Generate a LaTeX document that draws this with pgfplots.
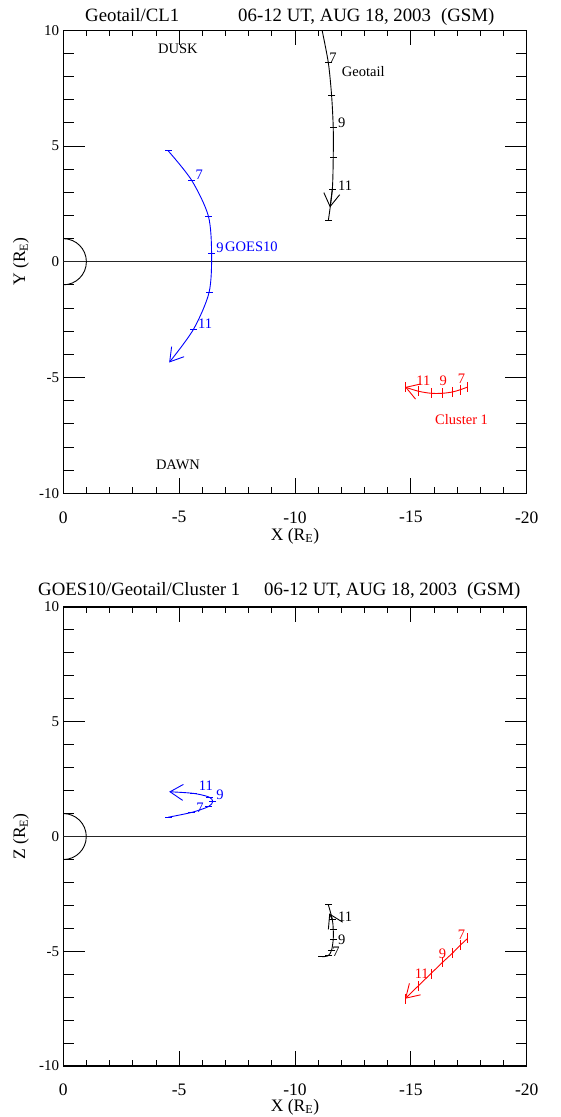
\documentclass[border=0pt]{standalone}
\usepackage{fontspec}
\setmainfont{Liberation Serif}
\usepackage{pgfplots}
\pgfplotsset{compat=1.18}
\usetikzlibrary{arrows.meta}
\newcommand\fa{\fontsize{14.5}{17}\selectfont}
\newcommand\ft{\fontsize{18.8}{22}\selectfont}
\newcommand\fx{\fontsize{17.5}{20}\selectfont}
\newcommand\fy{\fontsize{15}{18}\selectfont}
\pgfplotsset{
  base/.style={
    scale only axis, width=463.4pt, xmin=-20, xmax=0, x dir=reverse, ymin=-10, ymax=10,
    axis line style={line width=1.2pt}, tick style={line width=0.9pt, black},
  },
  xax/.style={base,
    xtick={0,-5,-10,-15,-20}, xticklabels={0,-5,-10,-15,-20}, minor x tick num=4,
    ytick=\empty, major tick length=15pt, minor tick length=6pt,
    xticklabel style={font=\fx, anchor=center, yshift=-24pt},
  },
  yax/.style={base,
    ytick={-10,-5,0,5,10}, yticklabels={-10,-5,0,5,10}, minor y tick num=4,
    xtick=\empty, major tick length=22pt, minor tick length=11pt,
    yticklabel style={font=\fy, anchor=east, inner sep=0pt, xshift=-4pt},
  },
  trj/.style={line width=0.9pt},
  arr/.style={-{Straight Barb[length=13pt,width=16pt,line width=0.9pt]}},
}
\begin{document}
\begin{tikzpicture}
\useasboundingbox (0,0) rectangle (560pt,1117pt);
% ---------------- titles and labels ----------------
\node[anchor=base west, font=\ft, inner sep=0pt] at (85pt,1095.6pt) {Geotail/CL1};
\node[anchor=base west, font=\ft, inner sep=0pt] at (238pt,1095.6pt) {06-12 UT, AUG 18, 2003\hspace{10pt}(GSM)};
\node[anchor=base west, font=\ft, inner sep=0pt] at (38pt,521pt) {GOES10/Geotail/Cluster 1};
\node[anchor=base west, font=\ft, inner sep=0pt] at (264pt,521pt) {06-12 UT, AUG 18, 2003\hspace{10pt}(GSM)};
\node[font=\fx, rotate=90] at (21pt,855.5pt) {Y (R\textsubscript{E})};
\node[font=\fx, rotate=90] at (21pt,280.5pt) {Z (R\textsubscript{E})};
\node[font=\fx] at (295pt,581pt) {X (R\textsubscript{E})};
\node[font=\fx] at (295pt,10pt) {X (R\textsubscript{E})};
% ---------------- top panel: X-Y ----------------
\begin{axis}[yax, height=463pt, at={(63.3pt,623.7pt)}, anchor=south west]
\end{axis}
\begin{axis}[xax, height=463pt, at={(63.3pt,623.7pt)}, anchor=south west]
\addplot[black!85, line width=0.8pt] coordinates {(0,0) (-20,0)};
\draw[line width=0.9pt] (axis cs:0,1) arc[start angle=90, end angle=-90, radius=23.1pt];
% GOES10
\addplot[blue, trj, smooth, arr] coordinates {
 (-4.53,4.79) (-5.54,3.52) (-6.26,1.98) (-6.40,0.35) (-6.29,-1.33) (-5.61,-2.93) (-4.57,-4.35)};
\addplot[blue, trj, only marks, mark=-, mark size=3.5pt] coordinates {
 (-4.53,4.79) (-5.54,3.52) (-6.26,1.98) (-6.40,0.35) (-6.29,-1.33) (-5.61,-2.93)};
% Geotail
\addplot[black, trj, smooth] coordinates {
 (-11.17,10.0) (-11.44,8.59) (-11.58,7.18) (-11.65,5.80) (-11.65,4.50) (-11.61,3.12) (-11.44,1.79)};
\addplot[black, trj, only marks, mark=-, mark size=3.7pt] coordinates {
 (-11.17,10.0) (-11.44,8.59) (-11.58,7.18) (-11.65,5.80) (-11.65,4.50) (-11.61,3.12) (-11.44,1.79)};
\addplot[black, trj, arr] coordinates {(-11.61,3.12) (-11.51,2.35)};
% Cluster 1
\addplot[red, trj, smooth, arr] coordinates {
 (-17.45,-5.41) (-17.15,-5.52) (-16.81,-5.62) (-16.36,-5.68) (-15.87,-5.68) (-15.32,-5.59) (-14.75,-5.41)};
\addplot[red, trj, only marks, mark=|, mark size=5pt] coordinates {
 (-17.45,-5.41) (-17.15,-5.52) (-16.81,-5.62) (-16.36,-5.68) (-15.87,-5.68) (-15.32,-5.59) (-14.75,-5.41)};
% annotations
\node[font=\fa] at (axis cs:-4.95,9.2) {DUSK};
\node[font=\fa] at (axis cs:-4.95,-8.79) {DAWN};
\node[font=\fa, anchor=west, inner sep=0pt] at (axis cs:-12.02,8.2) {Geotail};
\node[font=\fa] at (axis cs:-11.64,8.82) {7};
\node[font=\fa] at (axis cs:-12.02,6.01) {9};
\node[font=\fa] at (axis cs:-12.16,3.30) {11};
\node[font=\fa, blue] at (axis cs:-5.87,3.74) {7};
\node[font=\fa, blue] at (axis cs:-6.76,0.61) {9};
\node[font=\fa, blue, anchor=west, inner sep=0pt] at (axis cs:-6.98,0.64) {GOES10};
\node[font=\fa, blue] at (axis cs:-6.12,-2.67) {11};
\node[font=\fa, red] at (axis cs:-15.54,-5.12) {11};
\node[font=\fa, red] at (axis cs:-16.40,-5.15) {9};
\node[font=\fa, red] at (axis cs:-17.19,-5.05) {7};
\node[font=\fa, red] at (axis cs:-17.19,-6.82) {Cluster 1};
\end{axis}
% ---------------- bottom panel: X-Z ----------------
\begin{axis}[yax, height=459pt, at={(63.3pt,51pt)}, anchor=south west]
\end{axis}
\begin{axis}[xax, height=459pt, at={(63.3pt,51pt)}, anchor=south west]
\addplot[black!85, line width=0.8pt] coordinates {(0,0) (-20,0)};
\draw[line width=0.9pt] (axis cs:0,1) arc[start angle=90, end angle=-90, radius=23.0pt];
% GOES10
\addplot[blue, trj, smooth, arr] coordinates {
 (-4.53,0.84) (-5.54,1.05) (-6.26,1.30) (-6.45,1.52) (-6.29,1.72) (-5.61,1.88) (-4.57,1.95)};
\addplot[blue, trj, only marks, mark=-, mark size=3.5pt] coordinates {
 (-4.53,0.84) (-5.54,1.05) (-6.26,1.30) (-6.45,1.52) (-6.29,1.72) (-5.61,1.88)};
% Geotail
\addplot[black, trj, smooth] coordinates {
 (-11.17,-5.24) (-11.44,-5.19) (-11.58,-4.95) (-11.65,-4.48) (-11.65,-4.04) (-11.61,-3.61) (-11.44,-2.98)};
\addplot[black, trj, only marks, mark=-, mark size=3.7pt] coordinates {
 (-11.17,-5.24) (-11.44,-5.19) (-11.58,-4.95) (-11.65,-4.48) (-11.65,-4.04) (-11.61,-3.61) (-11.44,-2.98)};
\addplot[black, trj, arr] coordinates {(-11.61,-3.61) (-11.48,-3.35)};
% Cluster 1
\addplot[red, trj, arr] coordinates {
 (-17.45,-4.44) (-17.15,-4.72) (-16.81,-5.07) (-16.36,-5.49) (-15.87,-5.97) (-15.32,-6.51) (-14.75,-7.07)};
\addplot[red, trj, only marks, mark=|, mark size=5pt] coordinates {
 (-17.45,-4.44) (-17.15,-4.72) (-16.81,-5.07) (-16.36,-5.49) (-15.87,-5.97) (-15.32,-6.51) (-14.75,-7.07)};
% annotations
\node[font=\fa, blue] at (axis cs:-5.90,1.24) {7};
\node[font=\fa, blue] at (axis cs:-6.76,1.81) {9};
\node[font=\fa, blue] at (axis cs:-6.15,2.20) {11};
\node[font=\fa] at (axis cs:-11.77,-5.02) {7};
\node[font=\fa] at (axis cs:-12.02,-4.51) {9};
\node[font=\fa] at (axis cs:-12.16,-3.49) {11};
\node[font=\fa, red] at (axis cs:-17.19,-4.29) {7};
\node[font=\fa, red] at (axis cs:-16.37,-5.09) {9};
\node[font=\fa, red] at (axis cs:-15.47,-5.96) {11};
\end{axis}
\end{tikzpicture}
\end{document}
